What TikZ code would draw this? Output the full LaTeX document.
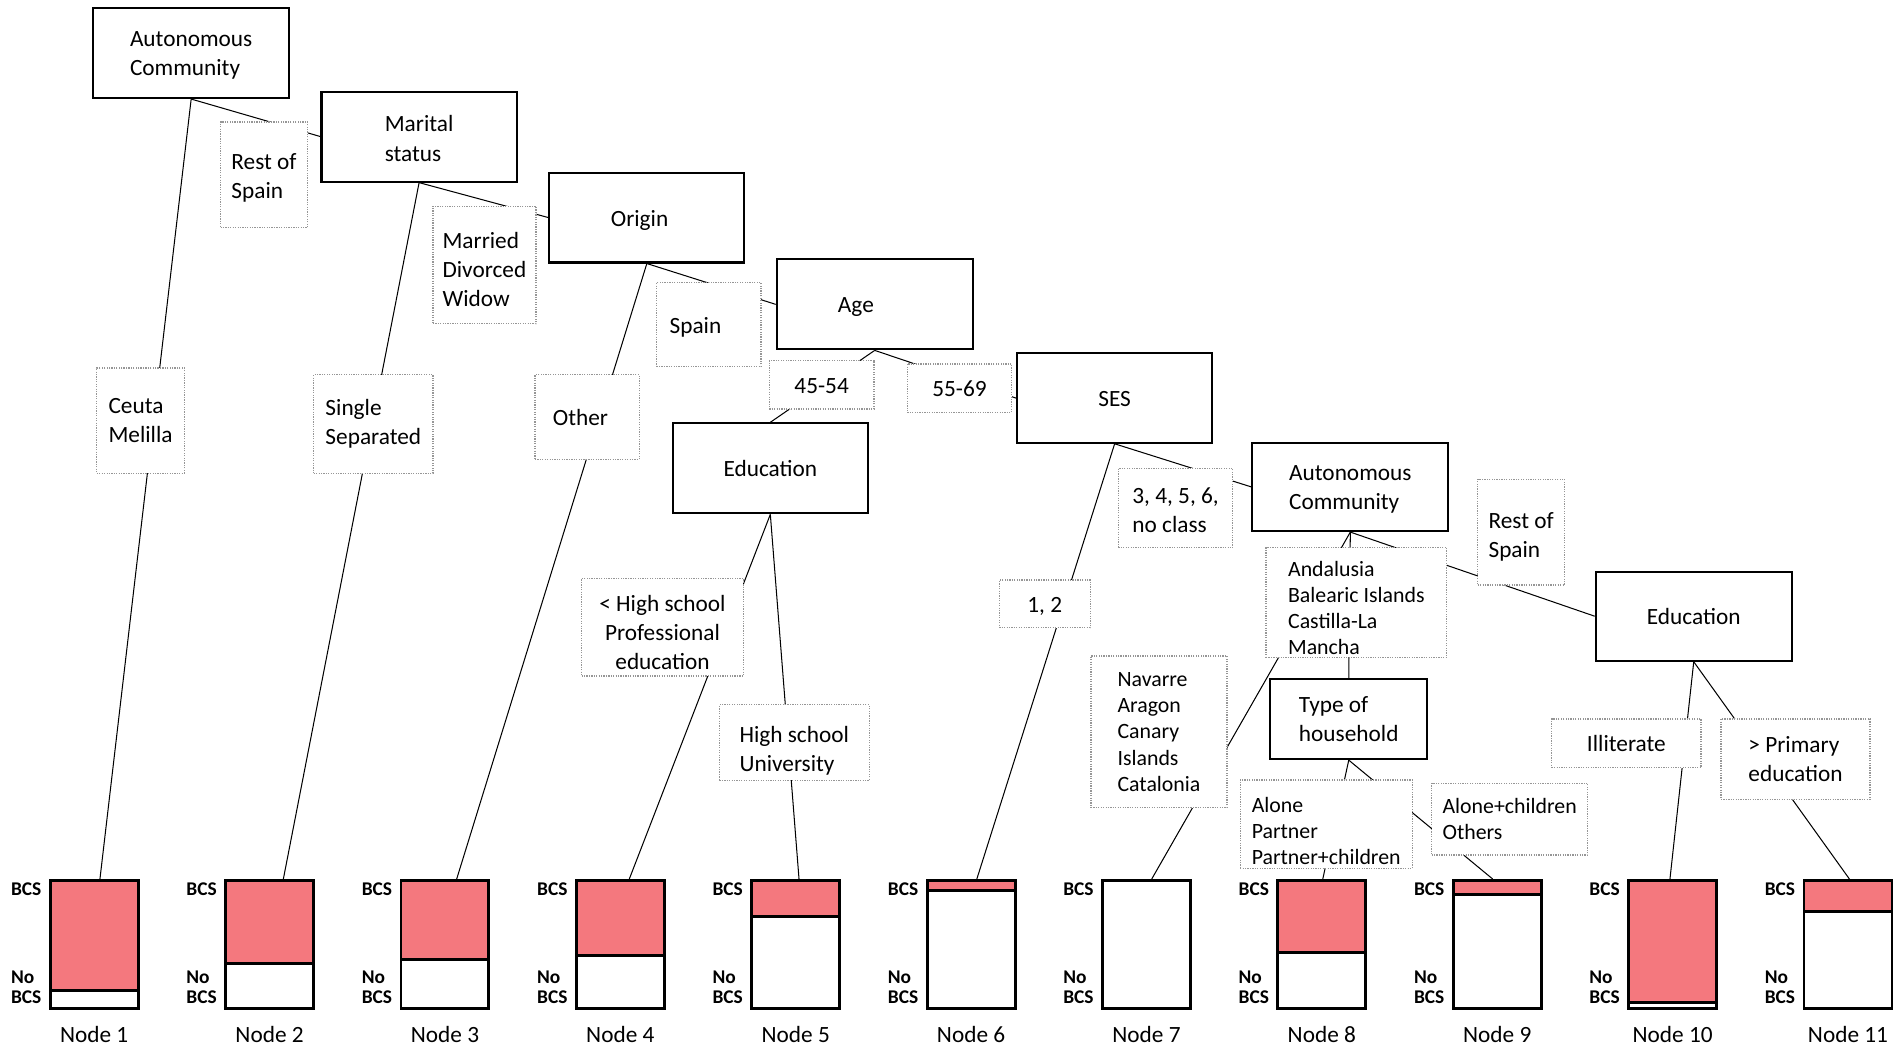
\documentclass[tikz,border=0pt]{standalone}
\usepackage{fontspec}
\setmainfont{Carlito}
\usetikzlibrary{backgrounds}
\definecolor{barred}{RGB}{244,120,126}
\definecolor{dotgray}{RGB}{150,150,150}
\newcommand\mainsz{\fontsize{19.2pt}{24pt}\selectfont}
\newcommand\smallsz{\fontsize{18pt}{21.6pt}\selectfont}
\newcommand\barsz{\fontsize{16pt}{18pt}\selectfont\bfseries}
\newcommand\dnx[1]{\rule{0pt}{#1pt}}
\begin{document}
\begin{tikzpicture}[x=1pt,y=-1pt,
  oneline/.style={execute at begin node={\rule{0pt}{19pt}},execute at end node={\rule[-5pt]{0pt}{0pt}}},
  split/.style={draw=black,line width=1.7pt,fill=white,inner sep=0pt,font=\mainsz},
  cond/.style={draw=dotgray,line width=1pt,dash pattern=on 1pt off 1pt,fill=white,inner sep=0pt,font=\mainsz},
  condsm/.style={cond,font=\smallsz},
  conn/.style={draw=black,line width=0.85pt},
  barbox/.style={fill=white,inner sep=0pt,outer sep=0pt,minimum width=72.5pt,minimum height=106pt},
  barlab/.style={font=\barsz,anchor=base west,inner sep=0pt},
  nodelab/.style={font=\mainsz,anchor=base,inner sep=0pt}]
\useasboundingbox (0,0) rectangle (1568,865);

% split boxes
\node[split,align=left,minimum width=161.6pt,minimum height=73.9pt] (ac1) at (157.6,43.85) {\dnx{16.5}Autonomous\\Community};
\node[split,align=left,minimum width=160.9pt,minimum height=74.2pt] (ms) at (345.5,112.6) {\dnx{16.5}Marital\\status};
\node[split,oneline,minimum width=160.7pt,minimum height=74.1pt] (orig) at (533.25,179.35) {\kern-12pt Origin};
\node[split,oneline,minimum width=161.6pt,minimum height=74.2pt] (age) at (721.1,250.9) {\kern-31pt Age};
\node[split,oneline,minimum width=161pt,minimum height=73.7pt] (ses) at (918.9,328.15) {SES};
\node[split,oneline,minimum width=161.1pt,minimum height=74.2pt] (eduL) at (635.05,386.1) {Education};
\node[split,align=left,minimum width=161.6pt,minimum height=72.8pt] (ac2) at (1113.2,401.4) {\dnx{16.5}Autonomous\\Community};
\node[split,oneline,minimum width=161.6pt,minimum height=73.4pt] (eduR) at (1396.3,508) {Education};
\node[split,align=left,minimum width=129.2pt,minimum height=65.7pt] (toh) at (1111.9,592.95) {Type of\\household};

% condition boxes
\node[cond,align=left,minimum width=71.7pt,minimum height=87.1pt] (rs1) at (217.65,144.05) {\dnx{18.5}Rest of\\Spain};
\node[cond,align=left,minimum width=84.9pt,minimum height=96.8pt] (mdw) at (399.35,218.4) {\dnx{20.5}Married\\Divorced\\Widow};
\node[cond,align=left,minimum width=72.1pt,minimum height=86.8pt] (ceuta) at (115.85,346.7) {Ceuta\\Melilla};
\node[cond,align=left,minimum width=98.3pt,minimum height=81.1pt] (single) at (307.75,349.55) {Single\\Separated};
\node[cond,oneline,minimum width=86pt,minimum height=69.6pt] (other) at (484,343.8) {\kern-11pt Other};
\node[cond,oneline,minimum width=86.1pt,minimum height=69.3pt] (spain) at (584.35,267.65) {\kern-22pt Spain};
\node[cond,oneline,minimum width=86.3pt,minimum height=39.8pt] (a4554) at (677.35,317.2) {45-54};
\node[cond,oneline,minimum width=85.9pt,minimum height=40pt] (a5569) at (790.95,320) {55-69};
\node[cond,align=left,minimum width=94.2pt,minimum height=65.4pt] (s3456) at (969.1,418.8) {\dnx{16.5}3, 4, 5, 6,\\no class};
\node[cond,oneline,minimum width=75pt,minimum height=39.3pt] (s12) at (861.3,497.8) {1, 2};
\node[cond,align=left,minimum width=71.7pt,minimum height=87.1pt] (rs2) at (1254,438.75) {\dnx{20.5}Rest of\\Spain};
\node[condsm,align=left,minimum width=148.9pt,minimum height=90.4pt] (anda) at (1118.15,496.7) {\dnx{21.5}Andalusia\\Balearic Islands\\Castilla-La\\Mancha};
\node[condsm,align=left,minimum width=112.1pt,minimum height=125.1pt] (nav) at (955.45,603.35) {Navarre\\Aragon\\Canary\\Islands\\Catalonia};
\node[cond,align=center,minimum width=133.3pt,minimum height=80.5pt] (hsc) at (546.15,517.05) {\dnx{22.5}< High school\\Professional\\education};
\node[cond,align=left,minimum width=123.4pt,minimum height=62.3pt] (hsu) at (654.8,612.25) {\dnx{26.5}High school\\University};
\node[condsm,align=left,minimum width=141.8pt,minimum height=72.8pt] (alone) at (1093.3,679.4) {\dnx{23.5}Alone\\Partner\\Partner+children};
\node[condsm,align=left,minimum width=128.7pt,minimum height=59pt] (alonec) at (1244.55,675.3) {Alone+children\\Others};
\node[cond,oneline,minimum width=123.1pt,minimum height=40.2pt] (illit) at (1340.75,612.8) {Illiterate};
\node[cond,align=left,minimum width=122.8pt,minimum height=66.2pt] (prim) at (1480.2,625.8) {> Primary\\education};

% terminal bars
\foreach \i/\fr/\tx in {1/0.856/82.4, 2/0.649/233.6, 3/0.614/376.5, 4/0.587/518.8, 5/0.286/658.7, 6/0.077/805.3, 7/0/949.5, 8/0.561/1090.5, 9/0.113/1230.5, 10/0.949/1376.7, 11/0.244/1524.6}{
  \pgfmathsetmacro\cx{77.65+144.58*(\i-1)}
  \pgfmathsetmacro\lx{\cx-37.25-31.5}
  \node[barbox] (b\i) at (\cx,778.6) {};
  \fill[barred] (b\i.north west) rectangle ([yshift=-\fr*106pt]b\i.north east);
  \draw[line width=2.4pt] ([yshift=-\fr*106pt]b\i.north west) -- ([yshift=-\fr*106pt]b\i.north east);
  \draw[line width=2.4pt] (b\i.north west) rectangle (b\i.south east);
  \coordinate (t\i) at (\tx,724.6);
  \node[barlab] (bcs\i) at (\lx,738.3) {BCS};
  \node[barlab] (no\i) at (\lx,810.4) {No};
  \node[barlab] (nbcs\i) at (\lx,827.6) {BCS};
  \node[nodelab] (nl\i) at (\cx,859.6) {Node \i};
}

\begin{pgfonlayer}{background}
\fill[white] (0,0) rectangle (1568,865);
\draw[conn] (ac1.south) -- (t1);
\draw[conn] (ac1.south) -- (ms.west);
\draw[conn] (ms.south) -- (orig.west);
\draw[conn] (ms.south) -- (t2);
\draw[conn] (orig.south) -- (age.west);
\draw[conn] (orig.south) -- (t3);
\draw[conn] (age.south) -- (eduL.north);
\draw[conn] (age.south) -- (ses.west);
\draw[conn] (eduL.south) -- (t4);
\draw[conn] (eduL.south) -- (t5);
\draw[conn] (ses.south) -- (t6);
\draw[conn] (ses.south) -- (ac2.west);
\draw[conn] (ac2.south) -- (t7);
\draw[conn] (ac2.south) -- (toh.north);
\draw[conn] (ac2.south) -- (eduR.west);
\draw[conn] (toh.south) -- (t8);
\draw[conn] (toh.south) -- (t9);
\draw[conn] (eduR.south) -- (t10);
\draw[conn] (eduR.south) -- (t11);
\end{pgfonlayer}
\end{tikzpicture}
\end{document}
